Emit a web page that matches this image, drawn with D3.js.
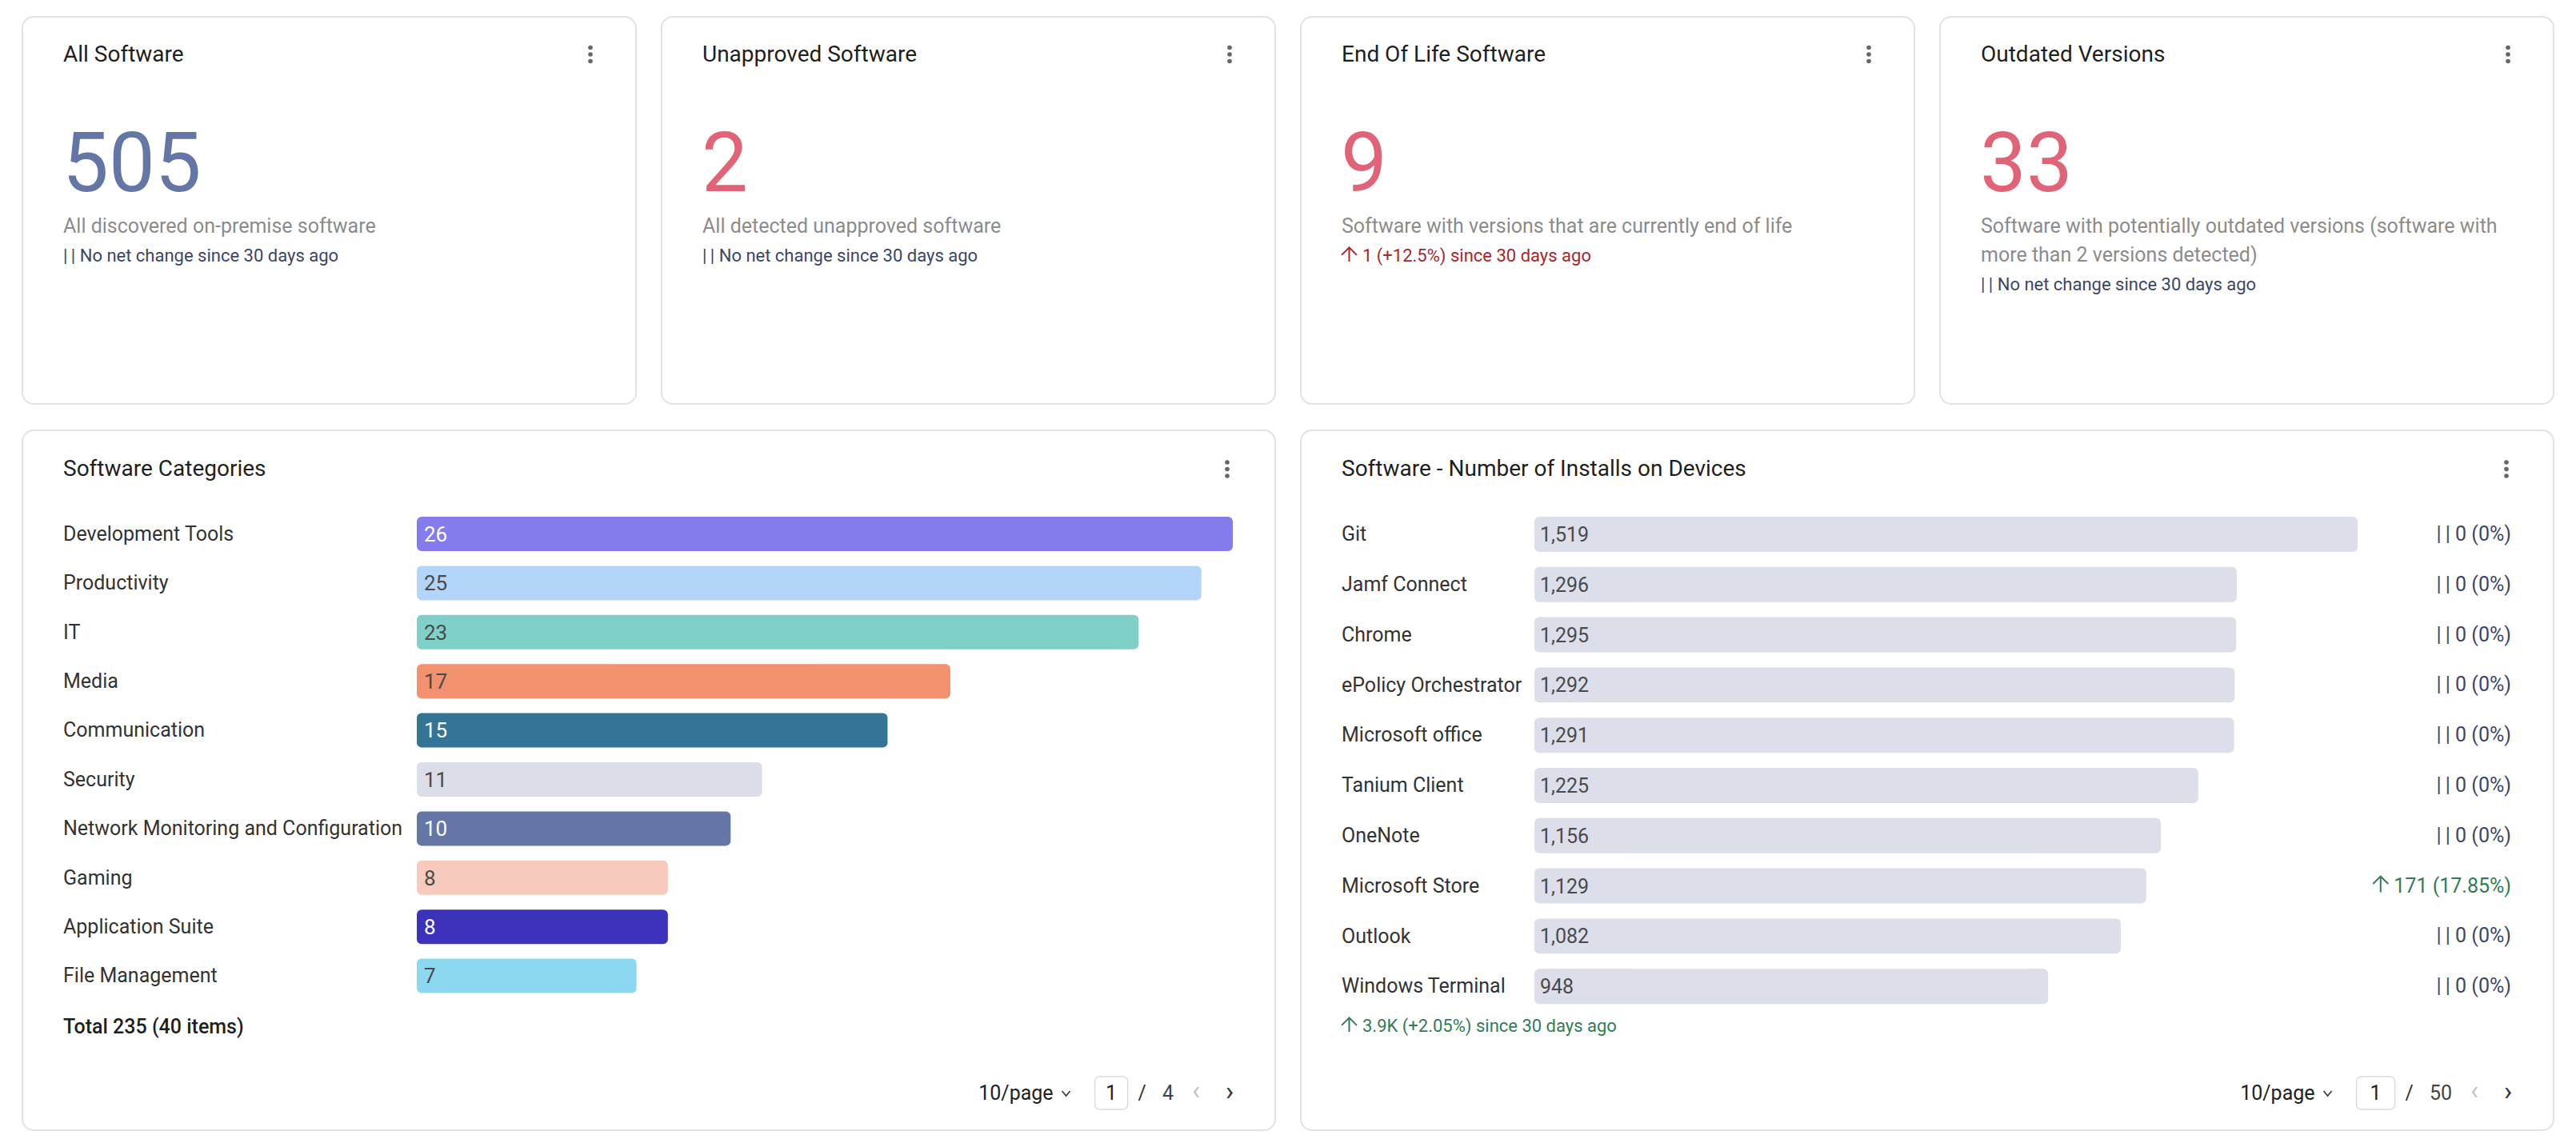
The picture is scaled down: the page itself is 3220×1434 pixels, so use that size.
<!DOCTYPE html>
<html>
<head>
<meta charset="utf-8">
<script src="https://cdn.jsdelivr.net/npm/d3@7"></script>
<style>
  html, body { margin: 0; padding: 0; background: #fff; }
  svg text { font-family: Roboto, "Noto Sans", sans-serif; }
</style>
</head>
<body>
<div id="dashboard"></div>
<script>
/*globals d3*/

// ---- data ----
const kpiTitles = ['All Software', 'Unapproved Software', 'End Of Life Software', 'Outdated Versions'];
const kpiValues = [505, 2, 9, 33];
const kpiDescriptions = [
	'All discovered on-premise software',
	'All detected unapproved software',
	'Software with versions that are currently end of life',
	'Software with potentially outdated versions (software with more than 2 versions detected)'
];
const kpiChangeValues = [0, 0, 1, 0];
const kpiChangePercents = [0, 0, 12.5, 0];

const categoryNames = ['Development Tools', 'Productivity', 'IT', 'Media', 'Communication',
	'Security', 'Network Monitoring and Configuration', 'Gaming', 'Application Suite', 'File Management'];
const categoryCounts = [26, 25, 23, 17, 15, 11, 10, 8, 8, 7];
const categoryTotal = 235;
const categoryItems = 40;
const categoryPages = 4;

const softwareNames = ['Git', 'Jamf Connect', 'Chrome', 'ePolicy Orchestrator', 'Microsoft office',
	'Tanium Client', 'OneNote', 'Microsoft Store', 'Outlook', 'Windows Terminal'];
const installCounts = [1519, 1296, 1295, 1292, 1291, 1225, 1156, 1129, 1082, 948];
const installChanges = [0, 0, 0, 0, 0, 0, 0, 171, 0, 0];
const installChangePercents = [0, 0, 0, 0, 0, 0, 0, 17.85, 0, 0];
const installTotalChange = '3.9K';
const installTotalChangePercent = 2.05;
const installPages = 50;

const categoryColors = ['#847cec', '#b3d5fa', '#80d0ca', '#f1916e', '#347596',
	'#dbdde9', '#6476a6', '#f7cabd', '#3d33ba', '#8bd8f0'];
const categoryLabelOnDark = [true, false, false, false, true, false, true, false, true, false];

// ---- styles ----
const W = 3220, H = 1434;
const borderColor = '#e0e1ea';
const titleColor = '#1f1f1f';
const labelColor = '#333333';
const greyText = '#8c8c8c';
const navyText = '#3b4668';
const redText = '#a9262b';
const greenText = '#2f7d57';
const kpiNumberColors = ['#6476a6', '#e06377', '#e06377', '#e06377'];
const installBarColor = '#dcdeea';
const flatMark = '|\u2009|';

const pageMargin = 27;
const cardGap = 30;
const topCardY = 20, topCardH = 486;
const bottomCardY = 537, bottomCardH = 877;
const padLeft = 52;

let svg;

function drawSvg() {
	d3.selectAll('#dashboard svg').remove();
	svg = d3.select('#dashboard').append('svg')
		.attr('width', W)
		.attr('height', H);
}

function drawCard(x, y, w, h) {
	svg.append('rect')
		.attr('x', x + 1).attr('y', y + 1)
		.attr('width', w - 2).attr('height', h - 2)
		.attr('rx', 14)
		.style('fill', '#fff')
		.style('stroke', borderColor)
		.style('stroke-width', 2);
}

function drawKebab(cx, cy) {
	svg.append('g').selectAll('circle')
		.data([-8.5, 0, 8.5])
		.join('circle')
		.attr('cx', cx).attr('cy', d => cy + d)
		.attr('r', 2.8)
		.style('fill', '#666');
}

function writeText(x, y, txt, size, color, weight, anchor) {
	return svg.append('text')
		.attr('x', x).attr('y', y)
		.text(txt)
		.style('font-size', size + 'px')
		.style('fill', color)
		.style('font-weight', weight || 400)
		.style('text-anchor', anchor || 'start');
}

function drawUpArrow(x, baseY, h, color) {
	// thin arrow glyph, x is the left edge
	const w = 19;
	const mid = x + w / 2;
	svg.append('path')
		.attr('d', 'M' + mid + ',' + baseY + 'L' + mid + ',' + (baseY - h) +
			'M' + x + ',' + (baseY - h + w / 2) + 'L' + mid + ',' + (baseY - h) + 'L' + (x + w) + ',' + (baseY - h + w / 2))
		.style('fill', 'none')
		.style('stroke', color)
		.style('stroke-width', 2);
	return w;
}

// change line "| | No net change ..." or "↑ n (+p%) ..."
function writeChange(x, y, value, pct, suffix, size, upColor) {
	if (value === 0 || value === '0') {
		return writeText(x, y, flatMark + ' No net change' + suffix, size, navyText);
	}
	const aw = drawUpArrow(x, y, size * 0.8, upColor);
	return writeText(x + aw + 7, y, value + ' (+' + pct + '%)' + suffix, size, upColor);
}

function wrapLines(txt, size, maxWidth) {
	const words = txt.split(' ');
	const probe = writeText(0, -100, '', size, '#000');
	const lines = [];
	let line = [];
	words.forEach(function (wd) {
		line.push(wd);
		probe.text(line.join(' '));
		if (probe.node().getComputedTextLength() > maxWidth && line.length > 1) {
			line.pop();
			lines.push(line.join(' '));
			line = [wd];
		}
	});
	lines.push(line.join(' '));
	probe.remove();
	return lines;
}

function drawKpiCards() {
	const cardW = (W - 2 * pageMargin - 3 * cardGap) / 4;
	const cardX = d3.scaleBand().domain(d3.range(4))
		.range([pageMargin, W - pageMargin])
		.paddingInner(cardGap / (cardW + cardGap));

	kpiTitles.forEach(function (title, i) {
		const x = cardX(i);
		drawCard(x, topCardY, cardW, topCardH);
		writeText(x + padLeft, 77, title, 28, titleColor);
		drawKebab(x + cardW - 58, 68);
		writeText(x + padLeft - 1, 239, kpiValues[i], 103, kpiNumberColors[i]);
		const lines = wrapLines(kpiDescriptions[i], 25, cardW - 2 * padLeft - 8);
		lines.forEach(function (ln, j) {
			writeText(x + padLeft, 291 + j * 36, ln, 25, greyText);
		});
		const changeY = 327 + (lines.length - 1) * 36;
		writeChange(x + padLeft, changeY, kpiChangeValues[i], kpiChangePercents[i],
			' since 30 days ago', 22, redText);
	});
}

function drawPagination(right, baseY, pages) {
	const fs = 25;
	const next = writeText(right - 58, baseY, '\u203A', 34, '#333', 400, 'middle');
	writeText(right - 100, baseY, '\u2039', 34, '#c4c4c4', 400, 'middle');
	next.attr('dy', 1);
	const total = writeText(right - 128, baseY, pages, fs, '#444', 400, 'end');
	const totalLeft = right - 128 - total.node().getComputedTextLength();
	const slash = writeText(totalLeft - 20, baseY, '/', fs, '#333', 400, 'end');
	const slashLeft = totalLeft - 20 - slash.node().getComputedTextLength();
	const boxW = 34 + 7 * String(pages).length;
	const boxRight = slashLeft - 13;
	svg.append('rect')
		.attr('x', boxRight - boxW).attr('y', baseY - 29)
		.attr('width', boxW).attr('height', 41)
		.attr('rx', 6)
		.style('fill', '#fff')
		.style('stroke', '#dcdcdc')
		.style('stroke-width', 1.5);
	writeText(boxRight - boxW / 2, baseY, '1', fs, '#222', 400, 'middle');
	const chevRight = boxRight - boxW - 31;
	svg.append('path')
		.attr('d', 'M' + (chevRight - 10) + ',' + (baseY - 11) + 'L' + (chevRight - 5) + ',' + (baseY - 5) +
			'L' + chevRight + ',' + (baseY - 11))
		.style('fill', 'none')
		.style('stroke', '#444')
		.style('stroke-width', 1.8);
	writeText(chevRight - 21, baseY, '10/page', fs, '#222', 400, 'end');
}

function drawCategoryChart() {
	const x0 = pageMargin;
	const cardW = (W - 2 * pageMargin - cardGap) / 2;
	drawCard(x0, bottomCardY, cardW, bottomCardH);
	writeText(x0 + padLeft, 595, 'Software Categories', 28, titleColor);
	drawKebab(x0 + cardW - 61, 586.5);

	const barLeft = 521;
	const step = 61.4;
	const top = 646 - 0.15 * step;
	const xScale = d3.scaleLinear()
		.domain([0, d3.max(categoryCounts)])
		.range([0, 1020]);
	const yScale = d3.scaleBand()
		.domain(categoryNames)
		.range([top, top + step * categoryNames.length])
		.paddingInner(0.3)
		.paddingOuter(0.15);

	const rows = svg.append('g').attr('id', 'categoryRows')
		.selectAll('g')
		.data(categoryNames.map((n, i) => ({ name: n, count: categoryCounts[i], color: categoryColors[i], dark: categoryLabelOnDark[i] })))
		.join('g');

	rows.append('text')
		.attr('x', x0 + padLeft)
		.attr('y', d => yScale(d.name) + yScale.bandwidth() / 2)
		.attr('dy', '0.33em')
		.text(d => d.name)
		.style('font-size', '25px')
		.style('fill', labelColor);

	rows.append('rect')
		.attr('x', barLeft)
		.attr('y', d => yScale(d.name))
		.attr('width', d => xScale(d.count))
		.attr('height', yScale.bandwidth())
		.attr('rx', 6)
		.style('fill', d => d.color);

	rows.append('text')
		.attr('x', barLeft + 9)
		.attr('y', d => yScale(d.name) + yScale.bandwidth() / 2)
		.attr('dy', '0.36em')
		.text(d => d.count)
		.style('font-size', '26px')
		.style('fill', d => d.dark ? '#fff' : '#4a4a4a');

	writeText(x0 + padLeft, 1292, 'Total ' + categoryTotal + ' (' + categoryItems + ' items)', 25, '#1f1f1f', 500);
	drawPagination(x0 + cardW, 1375, categoryPages);
}

function drawInstallChart() {
	const cardW = (W - 2 * pageMargin - cardGap) / 2;
	const x0 = pageMargin + cardW + cardGap;
	drawCard(x0, bottomCardY, cardW, bottomCardH);
	writeText(x0 + padLeft, 595, 'Software - Number of Installs on Devices', 28, titleColor);
	drawKebab(x0 + cardW - 60, 586.5);

	const barLeft = 1918;
	const step = 62.8;
	const top = 646 - 0.15 * step;
	const fmt = d3.format(',');
	const xScale = d3.scaleLinear()
		.domain([0, d3.max(installCounts)])
		.range([0, 1029]);
	const yScale = d3.scaleBand()
		.domain(softwareNames)
		.range([top, top + step * softwareNames.length])
		.paddingInner(0.3)
		.paddingOuter(0.15);

	const data = softwareNames.map((n, i) => ({
		name: n, count: installCounts[i], change: installChanges[i], pct: installChangePercents[i]
	}));
	const rows = svg.append('g').attr('id', 'installRows')
		.selectAll('g')
		.data(data)
		.join('g');

	rows.append('text')
		.attr('x', x0 + padLeft)
		.attr('y', d => yScale(d.name) + yScale.bandwidth() / 2)
		.attr('dy', '0.33em')
		.text(d => d.name)
		.style('font-size', '25px')
		.style('fill', labelColor);

	rows.append('rect')
		.attr('x', barLeft)
		.attr('y', d => yScale(d.name))
		.attr('width', d => xScale(d.count))
		.attr('height', yScale.bandwidth())
		.attr('rx', 6)
		.style('fill', installBarColor);

	rows.append('text')
		.attr('x', barLeft + 7)
		.attr('y', d => yScale(d.name) + yScale.bandwidth() / 2)
		.attr('dy', '0.36em')
		.text(d => fmt(d.count))
		.style('font-size', '25px')
		.style('fill', '#4a4a4a');

	// change column, right aligned
	const changeRight = x0 + cardW - 54;
	data.forEach(function (d) {
		const cy = yScale(d.name) + yScale.bandwidth() / 2 + 8;
		if (d.change === 0) {
			writeText(changeRight, cy, flatMark + ' 0 (0%)', 25, navyText, 400, 'end');
		} else {
			const t = writeText(changeRight, cy, d.change + ' (' + d.pct + '%)', 25, greenText, 400, 'end');
			const left = changeRight - t.node().getComputedTextLength();
			drawUpArrow(left - 26, cy, 20, greenText);
		}
	});

	writeChange(x0 + padLeft, 1290, installTotalChange, installTotalChangePercent,
		' since 30 days ago', 22, greenText);
	drawPagination(x0 + cardW, 1375, installPages);
}

drawSvg();
drawKpiCards();
drawCategoryChart();
drawInstallChart();
</script>
</body>
</html>
